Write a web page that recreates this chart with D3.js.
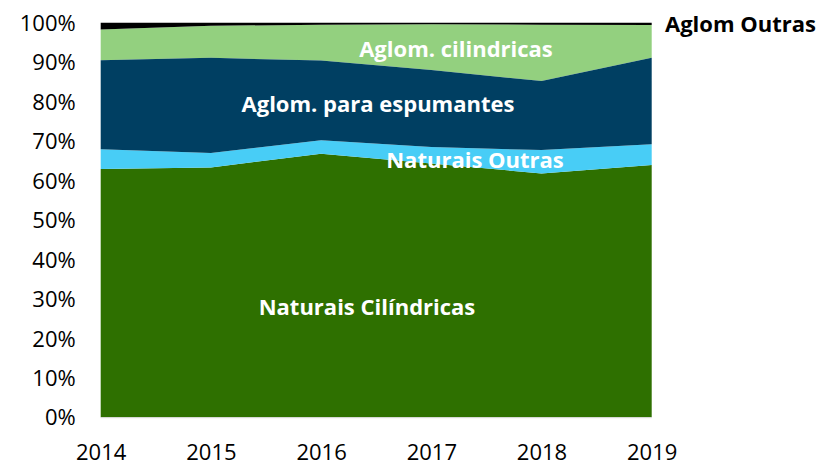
<!DOCTYPE html>
<meta charset="utf-8">
<head>
<style>
  body { margin: 0; background: #fff; }
  svg { display: block; }
  .tick text { font-family: "Open Sans", sans-serif; fill: #000; }
  .lbl { font-family: "Open Sans", sans-serif; font-weight: bold; }
</style>
</head>
<body>
<svg id="chart" width="820" height="465"></svg>
<script src="https://cdn.jsdelivr.net/npm/d3@7"></script>
<script>
// values (% share per year)
var years = ["2014", "2015", "2016", "2017", "2018", "2019"];
var naturaisCil = [62.9, 63.3, 66.8, 64.3, 61.8, 63.9];
var naturaisOutras = [5.0, 3.7, 3.4, 4.2, 5.9, 5.3];
var aglomEspum = [22.6, 24.1, 20.2, 19.5, 17.5, 21.9];
var aglomCil = [7.8, 8.1, 9.1, 11.6, 14.3, 8.3];
var aglomOutras = [1.7, 0.8, 0.5, 0.4, 0.5, 0.6];
var yTicks = [0, 10, 20, 30, 40, 50, 60, 70, 80, 90, 100];

var keys = ["nc", "no", "ae", "ac", "ao"];
var colors = { nc: "#2e7000", no: "#48cdf6", ae: "#003f62", ac: "#93d07f", ao: "#000000" };

var rows = years.map(function(y, i) {
  return { year: y, nc: naturaisCil[i], no: naturaisOutras[i], ae: aglomEspum[i], ac: aglomCil[i], ao: aglomOutras[i] };
});

var svg = d3.select("#chart"),
    margin = { top: 22.7, left: 100.7 },
    width = 551,
    height = 394.5;

var g = svg.append("g").attr("transform", "translate(" + margin.left + "," + margin.top + ")");

var x = d3.scalePoint().domain(years).range([0, width]);
var y = d3.scaleLinear().domain([0, 100]).range([height, 0]);

var series = d3.stack().keys(keys)(rows);
var area = d3.area()
    .x(function(d) { return x(d.data.year); })
    .y0(function(d) { return y(d[0]); })
    .y1(function(d) { return y(d[1]); });

function drawArea(k) {
  var s = series.find(function(d) { return d.key === k; });
  g.append("path").attr("d", area(s)).attr("fill", colors[k]);
}

drawArea("nc");
drawArea("no");
drawArea("ac");
drawArea("ao");

// this label is partly hidden by the dark blue layer in the original
svg.append("text").attr("class", "lbl")
  .attr("x", 456).attr("y", 56.5)
  .attr("text-anchor", "middle").attr("fill", "#fff").attr("font-size", 22)
  .text("Aglom. cilindricas");

drawArea("ae");

g.append("line")
  .attr("x1", 0).attr("x2", width).attr("y1", height + 0.5).attr("y2", height + 0.5)
  .attr("stroke", "#d9d9d9");

var labels = [
  { t: "Aglom. para espumantes", x: 378, y: 112 },
  { t: "Naturais Outras", x: 475, y: 168 },
  { t: "Naturais Cilíndricas", x: 367, y: 315 }
];
labels.forEach(function(l) {
  svg.append("text").attr("class", "lbl")
    .attr("x", l.x).attr("y", l.y)
    .attr("text-anchor", "middle").attr("fill", "#fff").attr("font-size", 22)
    .text(l.t);
});

svg.append("text").attr("class", "lbl")
  .attr("x", 665).attr("y", 32)
  .attr("fill", "#000").attr("font-size", 22)
  .text("Aglom Outras");

var yAxis = g.append("g")
  .call(d3.axisLeft(y).tickValues(yTicks).tickSize(0).tickPadding(25)
    .tickFormat(function(d) { return d + "%"; }));
yAxis.select(".domain").remove();
yAxis.selectAll("text").attr("font-size", 22).attr("dy", "0.35em");

var xAxis = g.append("g").attr("transform", "translate(0," + height + ")")
  .call(d3.axisBottom(x).tickSize(0).tickPadding(27));
xAxis.select(".domain").remove();
xAxis.selectAll("text").attr("font-size", 22);
</script>
</body>
</html>
